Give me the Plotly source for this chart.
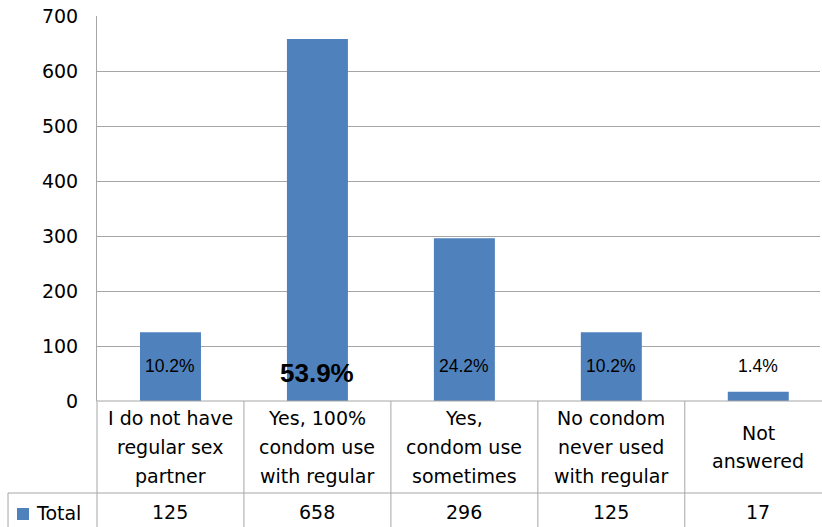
import plotly.graph_objects as go

categories = ["I do not have<br>regular sex<br>partner",
              "Yes, 100%<br>condom use<br>with regular",
              "Yes,<br>condom use<br>sometimes",
              "No condom<br>never used<br>with regular",
              "Not<br>answered"]
totals = [125, 658, 296, 125, 17]
pct_labels = ["10.2%", "53.9%", "24.2%", "10.2%", "1.4%"]
series_name = "Total"
y_ticks = [0, 100, 200, 300, 400, 500, 600, 700]

BLUE = "#4f81bd"
GRID = "#a6a6a6"
W, H = 822, 527
ML, MR, MT, MB = 97, 2, 16, 126
plot_h = H - MT - MB
plot_w = W - ML - MR

def py(pix):
    return (H - MB - pix) / plot_h

def px(pix):
    return (pix - ML) / plot_w

xs = list(range(len(categories)))
fig = go.Figure()
fig.add_trace(go.Bar(x=xs, y=totals, marker_color=BLUE, marker_line_width=0,
                     name=series_name, showlegend=False, hoverinfo="skip"))

ann = []
shapes = []
for i, lab in enumerate(pct_labels):
    bold = (i == 1)
    ann.append(dict(x=i, y=51 if bold else 63, xref="x", yref="y",
                    text=f"<b>{lab}</b>" if bold else lab, showarrow=False,
                    font=dict(family="Liberation Sans, Arial", size=26 if bold else 17.5,
                              color="black")))

cat_font = dict(family="DejaVu Sans", size=19, color="black")
line_gap = 29
for i, c in enumerate(categories):
    lines = c.split("<br>")
    n = len(lines)
    center = 447
    for k, ln in enumerate(lines):
        ypix = center + (k - (n - 1) / 2) * line_gap
        ann.append(dict(x=i, y=py(ypix), xref="x", yref="paper", text=ln,
                        showarrow=False, font=cat_font, yanchor="middle"))
    ann.append(dict(x=i, y=py(512), xref="x", yref="paper", text=str(totals[i]),
                    showarrow=False, font=cat_font, yanchor="middle"))

ann.append(dict(x=px(34), y=py(513), xref="paper", yref="paper", text=series_name,
                showarrow=False, font=cat_font, xanchor="left", yanchor="middle"))
shapes.append(dict(type="rect", xref="paper", yref="paper", x0=px(17), x1=px(29),
                   y0=py(508), y1=py(520), fillcolor=BLUE, line_width=0))

for i in range(len(categories)):
    shapes.append(dict(type="line", xref="x", yref="paper", x0=i + 0.5, x1=i + 0.5,
                       y0=0, y1=py(530), line=dict(color=GRID, width=1)))
shapes.append(dict(type="line", xref="paper", yref="paper", x0=0, x1=0,
                   y0=0, y1=py(530), line=dict(color=GRID, width=1)))
shapes.append(dict(type="line", xref="paper", yref="paper", x0=px(8), x1=px(8),
                   y0=py(493), y1=py(530), line=dict(color=GRID, width=1)))
shapes.append(dict(type="line", xref="paper", yref="paper", x0=px(8), x1=1.05,
                   y0=py(493), y1=py(493), line=dict(color=GRID, width=1)))
shapes.append(dict(type="line", xref="paper", yref="paper", x0=0, x1=1.05,
                   y0=0, y1=0, line=dict(color=GRID, width=1)))

fig.update_layout(
    width=W, height=H, margin=dict(l=ML, r=MR, t=MT, b=MB),
    paper_bgcolor="white", plot_bgcolor="white",
    bargap=0.585, showlegend=False,
    annotations=ann, shapes=shapes,
    xaxis=dict(range=[-0.5, 4.42], showticklabels=False, showgrid=False,
               zeroline=False, showline=False, ticks=""),
    yaxis=dict(range=[0, 700], tickvals=y_ticks, showgrid=True, gridcolor=GRID,
               gridwidth=1, zeroline=False, showline=True, linecolor=GRID,
               linewidth=1, ticks="", ticklabelstandoff=14,
               tickfont=dict(family="DejaVu Sans", size=19, color="black")),
)
fig.write_html("out.html", config={"displayModeBar": False},
               post_script="document.body.style.margin='0px';document.body.style.overflow='hidden';")
